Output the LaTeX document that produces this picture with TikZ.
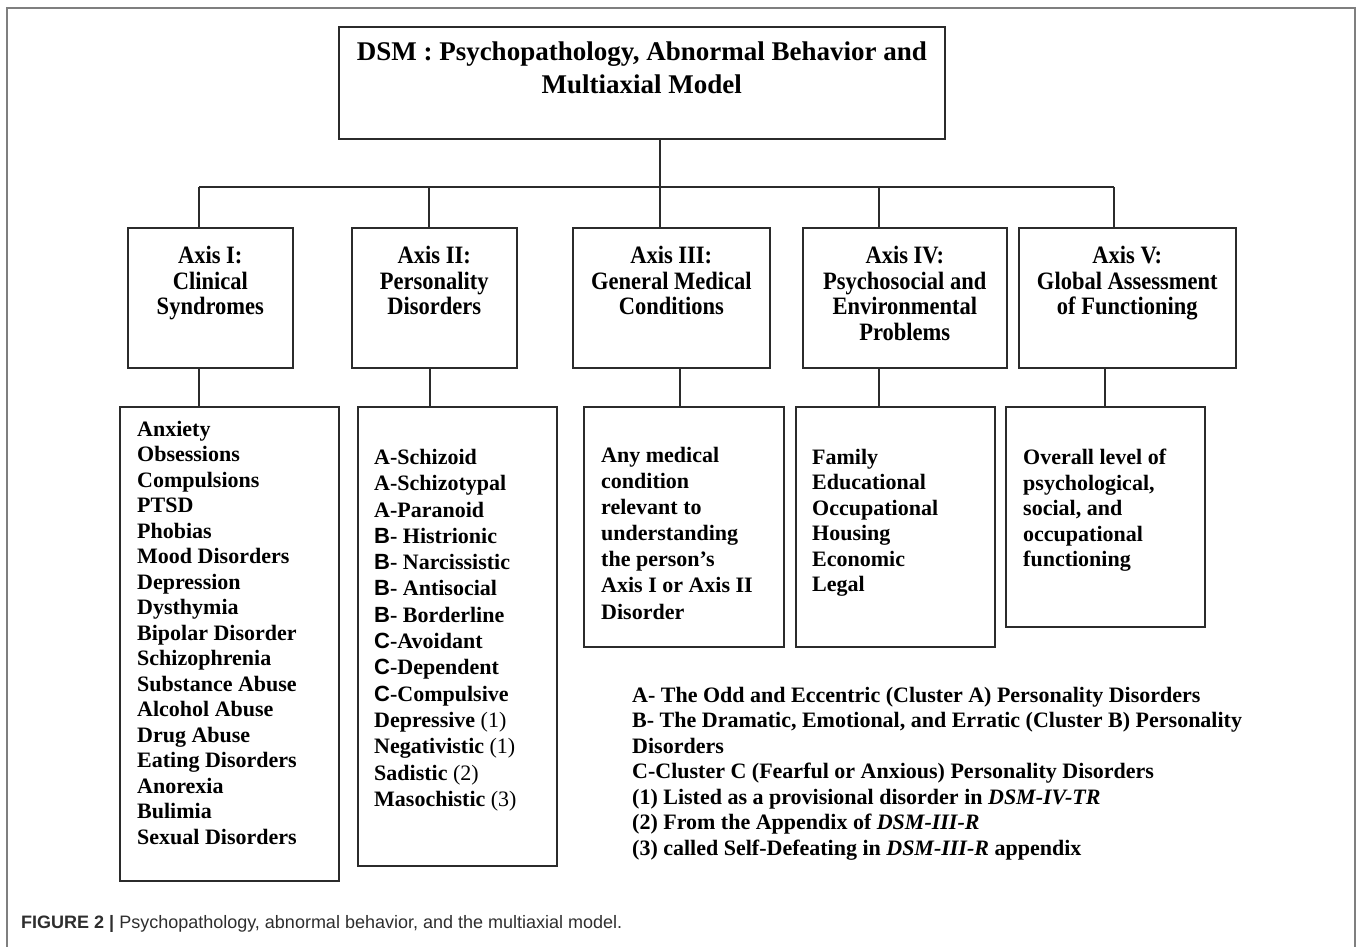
\documentclass[tikz,border=0pt]{standalone}
\usepackage{fontspec}
\setmainfont{Liberation Serif}
\setsansfont{Liberation Sans}
\newfontfamily\axisfont[FakeStretch=0.9]{Liberation Serif}
\usepackage{tikz}
\usetikzlibrary{positioning}
\definecolor{clLine}{HTML}{2B2B2B}
\definecolor{clFrame}{HTML}{7F7F7F}
\definecolor{clCaption}{HTML}{2E2E2E}
\tikzset{
  box/.style={rectangle, draw=clLine, line width=1.6pt, inner sep=0pt, anchor=north west},
  axis/.style={box, minimum height=140pt},
  headtext/.style={align=center, inner sep=0pt, font=\axisfont\bfseries\fontsize{25}{25.5}\selectfont},
  titletext/.style={align=center, inner sep=0pt, font=\bfseries\fontsize{27}{33}\selectfont},
  listtext/.style={align=left, inner sep=0pt, font=\bfseries\fontsize{22}{#1}\selectfont},
  listtext/.default=25.5,
  link/.style={draw=clLine, line width=1.4pt},
}

\begin{document}
\begin{tikzpicture}[x=1pt, y=-1pt]
  \useasboundingbox (0,0) rectangle (1357,947);
  % page frame, open at the bottom
  \draw[clFrame, line width=1.8pt] (7,947) -- (7,8) -- (1355,8) -- (1355,947);

  % title
  \node[box, minimum width=606pt, minimum height=112pt] (dsm) at (338,26) {};
  \node[titletext, below=15.5pt of dsm.north] (title) {DSM : Psychopathology, Abnormal Behavior and\\Multiaxial Model};

  % the five axes
  \node[axis, minimum width=165pt] (ax1) at (127,227) {};
  \node[axis, minimum width=165pt] (ax2) at (351,227) {};
  \node[axis, minimum width=197pt] (ax3) at (572,227) {};
  \node[axis, minimum width=204pt] (ax4) at (802,227) {};
  \node[axis, minimum width=217pt] (ax5) at (1018,227) {};
  \node[headtext, below=19pt of ax1.north] (h1) {Axis I:\\Clinical\\Syndromes};
  \node[headtext, below=19pt of ax2.north] (h2) {Axis II:\\Personality\\Disorders};
  \node[headtext, below=19pt of ax3.north] (h3) {Axis III:\\General Medical\\Conditions};
  \node[headtext, below=19pt of ax4.north] (h4) {Axis IV:\\Psychosocial and\\Environmental\\Problems};
  \node[headtext, below=19pt of ax5.north] (h5) {Axis V:\\Global Assessment\\of Functioning};

  % detail boxes
  \node[box, minimum width=219pt, minimum height=474pt] (d1) at (119,406) {};
  \node[box, minimum width=199pt, minimum height=459pt] (d2) at (357,406) {};
  \node[box, minimum width=200pt, minimum height=240pt] (d3) at (583,406) {};
  \node[box, minimum width=199pt, minimum height=240pt] (d4) at (795,406) {};
  \node[box, minimum width=199pt, minimum height=220pt] (d5) at (1005,406) {};
  \node[listtext, below right=15pt and 18pt of d1.north west] (l1) {Anxiety\\Obsessions\\Compulsions\\PTSD\\Phobias\\Mood Disorders\\Depression\\Dysthymia\\Bipolar Disorder\\Schizophrenia\\Substance Abuse\\Alcohol Abuse\\Drug Abuse\\Eating Disorders\\Anorexia\\Bulimia\\Sexual Disorders};
  \node[listtext=26.3, below right=43pt and 17pt of d2.north west] (l2) {A-Schizoid\\A-Schizotypal\\A-Paranoid\\{\sffamily B}- Histrionic\\{\sffamily B}- Narcissistic\\{\sffamily B}- Antisocial\\{\sffamily B}- Borderline\\{\sffamily C}-Avoidant\\{\sffamily C}-Dependent\\{\sffamily C}-Compulsive\\Depressive {\mdseries(1)}\\Negativistic {\mdseries(1)}\\Sadistic {\mdseries(2)}\\Masochistic {\mdseries(3)}};
  \node[listtext=26.1, below right=41pt and 18pt of d3.north west] (l3) {Any medical\\condition\\relevant to\\understanding\\the person’s\\Axis I or Axis II\\Disorder};
  \node[listtext, below right=43pt and 17pt of d4.north west] (l4) {Family\\Educational\\Occupational\\Housing\\Economic\\Legal};
  \node[listtext, below right=43pt and 18pt of d5.north west] (l5) {Overall level of\\psychological,\\social, and\\occupational\\functioning};

  % tree connectors
  \coordinate (bus) at (660,187);
  \coordinate (busL) at (199,187);
  \coordinate (busR) at (1114,187);
  \draw[link] (dsm.south -| bus) -- (bus);
  \draw[link] (busL) -- (busR);
  \foreach \i/\x in {1/199,2/429,3/660,4/879,5/1114} {
    \coordinate (t\i) at (\x,187);
    \draw[link] (t\i) -- (t\i |- ax\i.north);
  }
  \foreach \i/\x in {1/199,2/430,3/680,4/879,5/1105} {
    \coordinate (u\i) at (\x,367);
    \draw[link] (u\i |- ax\i.south) -- (u\i |- d\i.north);
  }

  % cluster key
  \node[listtext, anchor=north west] (key) at (632,687) {A- The Odd and Eccentric (Cluster A) Personality Disorders\\B- The Dramatic, Emotional, and Erratic (Cluster B) Personality\\Disorders\\C-Cluster C (Fearful or Anxious) Personality Disorders\\(1) Listed as a provisional disorder in \textit{DSM-IV-TR}\\(2) From the Appendix of \textit{DSM-III-R}\\(3) called Self-Defeating in \textit{DSM-III-R} appendix};

  % caption
  \node[anchor=base west, inner sep=0pt, text=clCaption, font=\sffamily\fontsize{18}{21}\selectfont] (cap) at (21,928) {\textbf{FIGURE 2 |} Psychopathology, abnormal behavior, and the multiaxial model.};
\end{tikzpicture}
\end{document}
